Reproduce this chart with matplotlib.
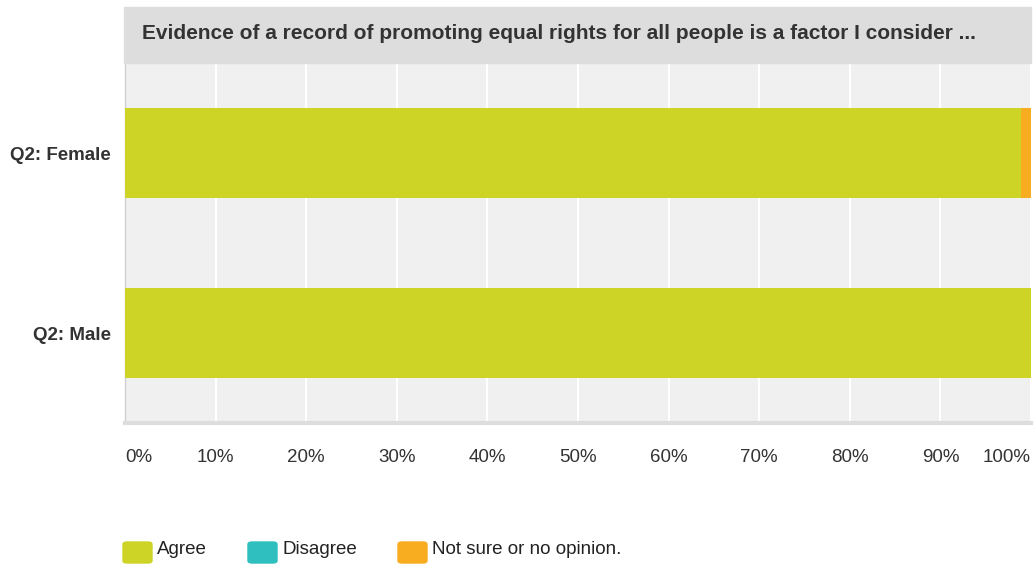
import matplotlib.pyplot as plt
from matplotlib.patches import Rectangle, FancyBboxPatch

# data
categories = ["Q2: Female", "Q2: Male"]
agree = [98.9, 100.0]
disagree = [0.0, 0.0]
not_sure = [1.1, 0.0]
series_names = ["Agree", "Disagree", "Not sure or no opinion."]
colors = ["#cdd425", "#2fbfbf", "#f7ad1f"]
tick_values = list(range(0, 101, 10))
tick_labels = [f"{v}%" for v in tick_values]
title = "Evidence of a record of promoting equal rights for all people is a factor I consider ..."

plt.rcParams["font.family"] = ["Liberation Sans", "DejaVu Sans"]

W, H = 1036, 565
fig = plt.figure(figsize=(W / 100, H / 100), dpi=100)
ax = fig.add_axes([125 / W, 1 - 423 / H, 906 / W, 360 / H])
ax.set_facecolor("#f0f0f0")

# title band
fig.patches.append(Rectangle((124 / W, 1 - 62.5 / H), 907 / W, 55.5 / H,
                             transform=fig.transFigure, color="#dddddd", zorder=0))
fig.text(142 / W, 1 - 33.5 / H, title, fontsize=15, fontweight="bold",
         color="#333333", ha="left", va="center")

y = list(range(len(categories)))
left = [0.0] * len(categories)
for vals, col in zip([agree, disagree, not_sure], colors):
    ax.barh(y, vals, left=left, height=0.5, color=col, zorder=3)
    left = [l + v for l, v in zip(left, vals)]

ax.set_xlim(0, 100)
ax.set_ylim(1.5, -0.5)
ax.set_xticks(tick_values)
ax.set_xticklabels(tick_labels, fontsize=13.5, color="#333333")
xt = ax.get_xticklabels()
xt[0].set_ha("left")
xt[-1].set_ha("right")
ax.set_yticks(y)
ax.set_yticklabels(categories, fontsize=13.5, fontweight="bold", color="#333333")
ax.tick_params(length=0)
ax.tick_params(axis="x", pad=19)
ax.tick_params(axis="y", pad=10)
ax.grid(axis="x", color="white", linewidth=1.5, zorder=1)
for s in ["top", "right"]:
    ax.spines[s].set_visible(False)
ax.spines["left"].set_color("#d0d0d0")
ax.spines["left"].set_linewidth(1)
ax.spines["bottom"].set_color("#dddddd")
ax.spines["bottom"].set_linewidth(3)

# legend
legend_x = [123, 248, 398]
for lx, name, col in zip(legend_x, series_names, colors):
    fig.patches.append(FancyBboxPatch((lx / W, 1 - 563 / H), 29 / W, 21 / H,
                                      boxstyle="round,pad=0,rounding_size=0.004",
                                      transform=fig.transFigure, color=col))
    fig.text((lx + 34) / W, 1 - 549 / H, name, fontsize=13.5, color="#222222",
             ha="left", va="center")

fig.savefig("out.png", dpi=100)
